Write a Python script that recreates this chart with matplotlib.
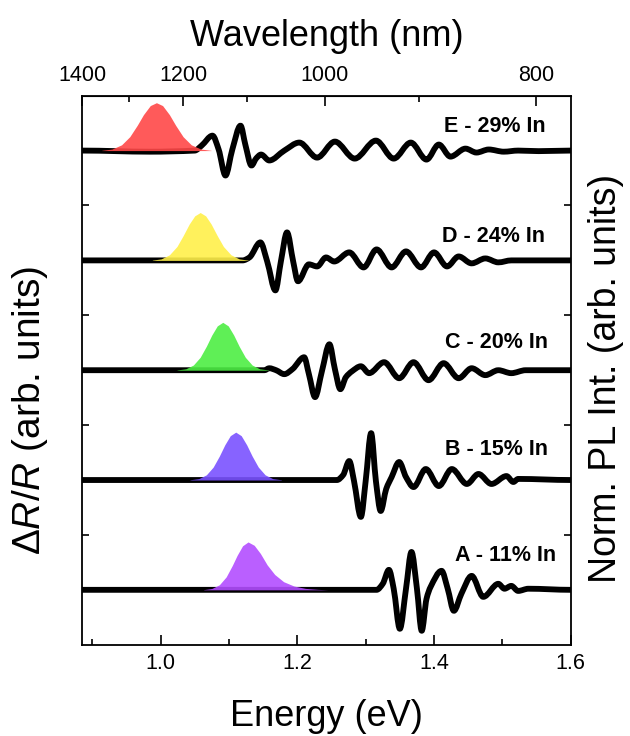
import matplotlib
matplotlib.use('Agg')
import matplotlib.pyplot as plt
from matplotlib.path import Path
from matplotlib.patches import PathPatch
import numpy as np

plt.rcParams['font.family'] = ['Liberation Sans', 'DejaVu Sans']
plt.rcParams['mathtext.fontset'] = 'custom'
plt.rcParams['mathtext.rm'] = 'Liberation Sans'
plt.rcParams['mathtext.it'] = 'Liberation Sans:italic'

# samples, bottom to top
samples = ['A - 11% In', 'B - 15% In', 'C - 20% In', 'D - 24% In', 'E - 29% In']
pl_colors = ['#b34dff', '#7a52ff', '#4dee44', '#fff04a', '#ff4848']

# photoreflectance (dR/R) (extrema and crossings)
pr_A_energy = [0.885, 1.316, 1.325, 1.334, 1.341, 1.350, 1.359, 1.367, 1.375, 1.382, 1.389, 1.395,
               1.411, 1.420, 1.429, 1.440, 1.455, 1.472, 1.494, 1.503, 1.513, 1.523, 1.538, 1.600]
pr_A_value = [0, 0, 0.055, 0.182, 0.01, -0.355, 0.01, 0.345, 0.01, -0.373, -0.082, 0.027,
              0.173, 0.01, -0.191, -0.036, 0.127, -0.064, 0.055, 0.01, 0.036, -0.01, 0.01, 0]

pr_B_energy = [0.885, 1.258, 1.267, 1.276, 1.283, 1.293, 1.300, 1.308, 1.315, 1.322, 1.330, 1.338,
               1.349, 1.359, 1.370, 1.388, 1.407, 1.426, 1.448, 1.465, 1.484, 1.506, 1.516, 1.523, 1.600]
pr_B_value = [0, 0, 0.045, 0.173, -0.01, -0.336, -0.01, 0.427, -0.01, -0.282, -0.082, 0.027,
              0.164, 0.027, -0.064, 0.1, -0.055, 0.1, -0.036, 0.055, -0.036, 0.036, -0.018, 0.01, 0]

pr_C_energy = [0.885, 1.152, 1.159, 1.169, 1.181, 1.193, 1.210, 1.217, 1.226, 1.236, 1.247, 1.255,
               1.263, 1.271, 1.280, 1.293, 1.305, 1.327, 1.349, 1.370, 1.392, 1.414, 1.436, 1.455,
               1.475, 1.494, 1.513, 1.534, 1.600]
pr_C_value = [0, 0, 0.018, 0, -0.036, 0.01, 0.118, -0.036, -0.245, -0.01, 0.236, 0.01,
              -0.173, -0.064, -0.01, 0.036, -0.027, 0.073, -0.073, 0.073, -0.091, 0.064, -0.073, 0.018,
              -0.045, 0, -0.027, 0, 0]

pr_D_energy = [0.885, 1.120, 1.130, 1.146, 1.156, 1.168, 1.176, 1.185, 1.194, 1.201, 1.217, 1.229,
               1.242, 1.254, 1.276, 1.297, 1.316, 1.338, 1.359, 1.381, 1.400, 1.419, 1.436, 1.455,
               1.475, 1.494, 1.513, 1.600]
pr_D_value = [0, 0, 0.027, 0.164, -0.01, -0.273, -0.01, 0.255, -0.01, -0.19, -0.036, -0.055,
              0.027, -0.01, 0.073, -0.064, 0.1, -0.064, 0.082, -0.064, 0.073, -0.055, 0.036, -0.027,
              0.018, -0.018, 0, 0]

pr_E_energy = [0.885, 0.984, 1.050, 1.060, 1.076, 1.085, 1.095, 1.105, 1.117, 1.124, 1.133, 1.140,
               1.147, 1.159, 1.181, 1.203, 1.229, 1.255, 1.284, 1.315, 1.341, 1.366,
               1.389, 1.407, 1.424, 1.446, 1.462, 1.480, 1.502, 1.523, 1.553, 1.600]
pr_E_value = [0, -0.01, 0, 0.045, 0.136, 0.01, -0.227, 0.01, 0.227, 0.055, -0.136, -0.07,
              -0.036, -0.09, 0.0, 0.073, -0.064, 0.082, -0.073, 0.091, -0.073, 0.073,
              -0.082, 0.055, -0.055, 0.018, -0.018, 0.01, -0.01, 0, -0.005, 0]

# normalised PL spectra
pl_A_energy = [1.063, 1.075, 1.086, 1.096, 1.105, 1.112, 1.120, 1.128, 1.137, 1.146, 1.156,
               1.167, 1.180, 1.195, 1.212, 1.230, 1.245]
pl_A_int = [0.004, 0.028, 0.105, 0.27, 0.51, 0.72, 0.92, 1.0, 0.93, 0.76, 0.52,
            0.32, 0.17, 0.08, 0.03, 0.01, 0]

pl_B_energy = [1.043, 1.056, 1.067, 1.077, 1.086, 1.094, 1.102, 1.110, 1.118, 1.126, 1.134,
               1.143, 1.153, 1.164, 1.177]
pl_B_int = [0.005, 0.03, 0.108, 0.27, 0.5, 0.735, 0.926, 1.0, 0.926, 0.735, 0.5,
            0.27, 0.108, 0.03, 0.005]

pl_C_energy = [1.024, 1.037, 1.048, 1.058, 1.067, 1.075, 1.083, 1.091, 1.099, 1.107, 1.115,
               1.124, 1.134, 1.145, 1.158]
pl_C_int = [0.005, 0.03, 0.108, 0.27, 0.5, 0.735, 0.926, 1.0, 0.926, 0.735, 0.5,
            0.27, 0.108, 0.03, 0.005]

pl_D_energy = [0.988, 1.001, 1.013, 1.024, 1.033, 1.042, 1.050, 1.058, 1.066, 1.074, 1.083,
               1.092, 1.103, 1.115, 1.128]
pl_D_int = [0.006, 0.032, 0.117, 0.29, 0.515, 0.76, 0.93, 1.0, 0.93, 0.76, 0.515,
            0.29, 0.117, 0.032, 0.006]

pl_E_energy = [0.914, 0.929, 0.943, 0.955, 0.966, 0.975, 0.985, 0.994, 1.003, 1.013, 1.022,
               1.033, 1.045, 1.059, 1.074]
pl_E_int = [0.005, 0.032, 0.12, 0.29, 0.53, 0.75, 0.94, 1.0, 0.94, 0.75, 0.53,
            0.29, 0.12, 0.032, 0.005]

pr_energy = [pr_A_energy, pr_B_energy, pr_C_energy, pr_D_energy, pr_E_energy]
pr_value = [pr_A_value, pr_B_value, pr_C_value, pr_D_value, pr_E_value]
pl_energy = [pl_A_energy, pl_B_energy, pl_C_energy, pl_D_energy, pl_E_energy]
pl_int = [pl_A_int, pl_B_int, pl_C_int, pl_D_int, pl_E_int]

pl_scale = 0.436   # PL peak height in units of the trace spacing
label_x = [1.579, 1.567, 1.567, 1.563, 1.563]
label_dy = [0.31, 0.28, 0.25, 0.22, 0.22]


def smooth_path(x, y):
    # bezier path through the read points, monotone tangents (no overshoot)
    x = np.asarray(x, float)
    y = np.asarray(y, float)
    d = np.diff(y) / np.diff(x)
    m = np.zeros_like(x)
    for k in range(1, len(x) - 1):
        if d[k - 1] * d[k] > 0:
            m[k] = 2.0 / (1.0 / d[k - 1] + 1.0 / d[k])
    verts = [(x[0], y[0])]
    codes = [Path.MOVETO]
    for k in range(len(x) - 1):
        h = (x[k + 1] - x[k]) / 3.0
        verts += [(x[k] + h, y[k] + m[k] * h),
                  (x[k + 1] - h, y[k + 1] - m[k + 1] * h),
                  (x[k + 1], y[k + 1])]
        codes += [Path.CURVE4] * 3
    return Path(verts, codes)


fig, ax = plt.subplots(figsize=(6.3, 7.36), dpi=100)
fig.subplots_adjust(left=0.130, right=0.906, bottom=0.124, top=0.870)

for i in range(len(samples)):
    path = smooth_path(pr_energy[i], np.array(pr_value[i]) + i)
    ax.add_patch(PathPatch(path, facecolor='none', edgecolor='black', lw=4.2,
                           joinstyle='round', capstyle='round', zorder=2))
    ax.fill_between(pl_energy[i], i, np.array(pl_int[i]) * pl_scale + i,
                    color=pl_colors[i], alpha=0.9, lw=0, zorder=3)
    ax.text(label_x[i], i + label_dy[i], samples[i], ha='right', va='center',
            fontsize=15.5, fontweight='bold')

ax.set_xlim(0.885, 1.6)
ax.set_ylim(-0.5, 4.5)
ax.set_xticks([1.0, 1.2, 1.4, 1.6])
ax.set_xticks([0.9, 1.1, 1.3, 1.5], minor=True)
ax.set_yticks([0.5, 1.5, 2.5, 3.5])
ax.set_yticklabels([])
ax.tick_params(axis='x', which='both', direction='in', top=False, labelsize=15.5, pad=6)
ax.tick_params(axis='x', which='major', length=7, width=1.2)
ax.tick_params(axis='x', which='minor', length=4, width=1.2)
ax.tick_params(axis='y', which='major', direction='in', left=True, right=True, length=5, width=1.2)
for s in ax.spines.values():
    s.set_linewidth(1.3)

top = ax.secondary_xaxis('top', functions=(lambda e: 1239.84 / np.asarray(e, float),
                                           lambda w: 1239.84 / np.asarray(w, float)))
top.set_xticks([1400, 1200, 1000, 800])
top.set_xticks([1300, 1100, 900], minor=True)
top.tick_params(axis='x', which='both', direction='in', labelsize=15.5, pad=7)
top.tick_params(axis='x', which='major', length=7, width=1.2)
top.tick_params(axis='x', which='minor', length=4, width=1.2)
top.set_xlabel('Wavelength (nm)', fontsize=26, labelpad=14)

ax.set_xlabel('Energy (eV)', fontsize=26, labelpad=18)

fig.text(0.048, 1 - 410 / 736, r'$\Delta R/R$ (arb. units)', rotation=90, fontsize=28,
         ha='center', va='center')
fig.text(0.962, 0.486, 'Norm. PL Int. (arb. units)', rotation=90, fontsize=27,
         ha='center', va='center')

fig.savefig('out.png', dpi=100)
